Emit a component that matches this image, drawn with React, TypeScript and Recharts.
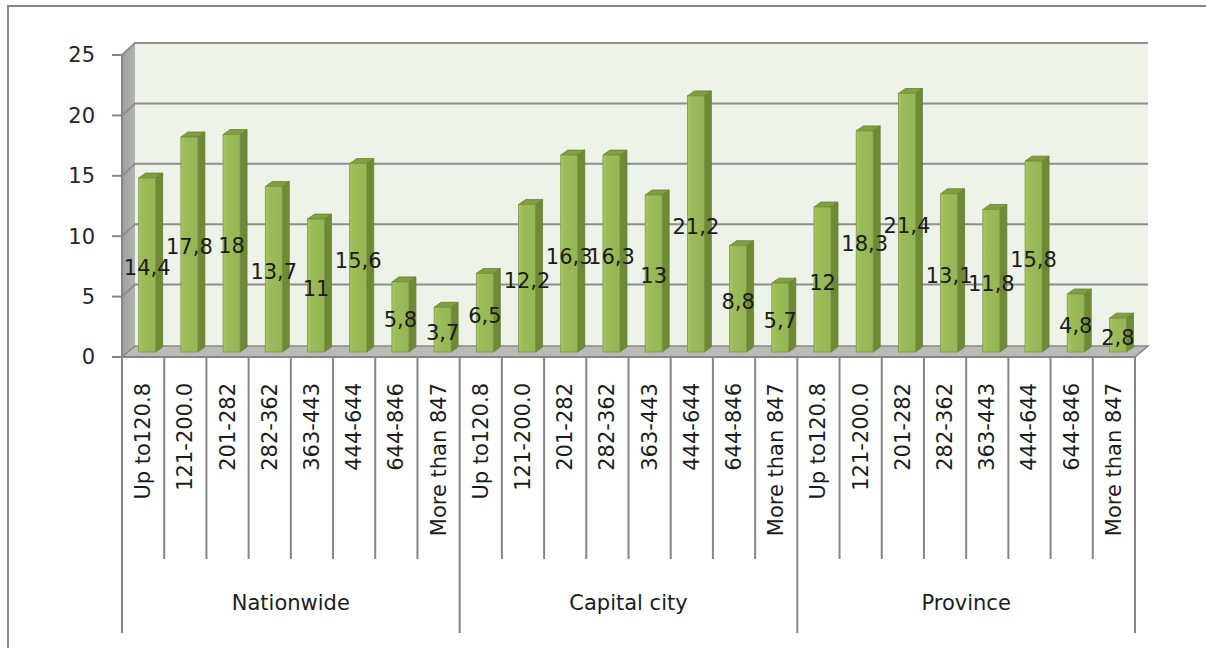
import { BarChart, Bar, XAxis, YAxis, ReferenceArea, LabelList } from 'recharts';

const groups = ['Nationwide', 'Capital city', 'Province'];
const incomeBands = ['Up to120.8', '121-200.0', '201-282', '282-362', '363-443', '444-644', '644-846', 'More than 847'];
const nationwide = [14.4, 17.8, 18, 13.7, 11, 15.6, 5.8, 3.7];
const capitalCity = [6.5, 12.2, 16.3, 16.3, 13, 21.2, 8.8, 5.7];
const province = [12, 18.3, 21.4, 13.1, 11.8, 15.8, 4.8, 2.8];
const yTicks = [0, 5, 10, 15, 20, 25];

const series = [nationwide, capitalCity, province];
const data = groups.flatMap((g, gi) =>
  incomeBands.map((b, i) => ({ key: `${gi}-${i}`, band: b, group: g, value: series[gi][i] }))
);

const FONT = '"DejaVu Sans", sans-serif';
const AXIS = '#868686';
// 3d depth of the walls and of the columns
const WALL_DX = 13;
const WALL_DY = 12;
const BAR_SHIFT_X = 4;
const BAR_SHIFT_Y = 5;
const BAR_DX = 7;
const BAR_DY = 5;

function Walls(props: any) {
  const { x, y, width, height } = props;
  const bottom = y + height;
  const right = x + width;
  return (
    <g>
      <defs>
        <linearGradient id="sideWall" x1="0" y1="0" x2="1" y2="0">
          <stop offset="0%" stopColor="#9c9e99" />
          <stop offset="100%" stopColor="#b4b6b1" />
        </linearGradient>
        <linearGradient id="barFront" x1="0" y1="0" x2="1" y2="0">
          <stop offset="0%" stopColor="#aac96b" />
          <stop offset="20%" stopColor="#9cbc5a" />
          <stop offset="100%" stopColor="#96b554" />
        </linearGradient>
      </defs>
      <rect x={x + WALL_DX} y={y - WALL_DY} width={width} height={height} fill="#eef3ea" />
      <polygon
        points={`${x},${y} ${x + WALL_DX},${y - WALL_DY} ${x + WALL_DX},${bottom - WALL_DY + 1} ${x},${bottom}`}
        fill="url(#sideWall)"
      />
      <polygon
        points={`${x},${bottom} ${x + WALL_DX},${bottom - WALL_DY + 1} ${right + WALL_DX},${bottom - WALL_DY + 1} ${right},${bottom}`}
        fill="#b9bbb6"
        stroke={AXIS}
        strokeWidth={1.5}
      />
      {yTicks
        .filter((t) => t > 0)
        .map((t) => {
          const ty = bottom - (t / 25) * height;
          return (
            <polyline
              key={t}
              points={`${x},${ty} ${x + WALL_DX},${ty - WALL_DY} ${right + WALL_DX},${ty - WALL_DY}`}
              fill="none"
              stroke="#8e8e8e"
              strokeWidth={2}
            />
          );
        })}
    </g>
  );
}

function Column3D(props: any) {
  const { x, y, width, height } = props;
  if (!height || height <= 0) return null;
  const fx = x + BAR_SHIFT_X;
  const fy = y - BAR_SHIFT_Y;
  const edge = '#66802f';
  return (
    <g>
      <polygon
        points={`${fx + width},${fy} ${fx + width + BAR_DX},${fy - BAR_DY} ${fx + width + BAR_DX},${fy + height - BAR_DY} ${fx + width},${fy + height}`}
        fill="#6e8a36"
        stroke={edge}
        strokeWidth={0.8}
      />
      <polygon
        points={`${fx},${fy} ${fx + BAR_DX},${fy - BAR_DY} ${fx + width + BAR_DX},${fy - BAR_DY} ${fx + width},${fy}`}
        fill="#809e43"
        stroke={edge}
        strokeWidth={0.8}
      />
      <rect x={fx} y={fy} width={width} height={height} fill="url(#barFront)" stroke="#78963d" strokeWidth={0.8} />
    </g>
  );
}

function ValueLabel(props: any) {
  const { x, y, width, height, value } = props;
  return (
    <text
      x={x + width / 2 + BAR_SHIFT_X}
      y={y + height / 2 - 2}
      textAnchor="middle"
      dominantBaseline="central"
      fontSize={21}
      fontFamily={FONT}
      fill="#1c1c1c"
    >
      {String(value).replace('.', ',')}
    </text>
  );
}

function CategoryTick(props: any) {
  const { x, y, payload } = props;
  const row = data.find((d) => d.key === payload.value);
  if (!row) return null;
  const idx = data.indexOf(row);
  const half = payload.offset || 21.1;
  const pos = idx % incomeBands.length;
  const left = x - half;
  const groupStart = pos === 0;
  return (
    <g>
      <line x1={left} y1={y} x2={left} y2={y + (groupStart ? 276 : 202)} stroke={AXIS} strokeWidth={2} />
      {idx === data.length - 1 && (
        <line x1={x + half} y1={y} x2={x + half} y2={y + 276} stroke={AXIS} strokeWidth={2} />
      )}
      <text
        transform={`rotate(-90 ${x} ${y + 26})`}
        x={x}
        y={y + 26}
        textAnchor="end"
        dominantBaseline="central"
        fontSize={21}
        fontFamily={FONT}
        fill="#1c1c1c"
      >
        {row.band}
      </text>
      {groupStart && (
        <text
          x={left + half * incomeBands.length}
          y={y + 246}
          textAnchor="middle"
          dominantBaseline="central"
          fontSize={21}
          fontFamily={FONT}
          fill="#1c1c1c"
        >
          {row.group}
        </text>
      )}
    </g>
  );
}

export default function App() {
  return (
    <div style={{ position: 'absolute', left: 0, top: 0, width: 1206, height: 648, overflow: 'hidden', background: '#fff' }}>
      <div
        style={{
          position: 'absolute',
          left: 7,
          top: 5,
          width: 1300,
          height: 700,
          borderLeft: `2px solid ${AXIS}`,
          borderTop: `2px solid ${AXIS}`,
        }}
      />
      <div style={{ position: 'absolute', left: 0, top: 0 }}>
        <BarChart width={1206} height={648} data={data} margin={{ top: 55, right: 71, left: 40, bottom: 0 }} barCategoryGap="30%">
          <ReferenceArea y1={0} y2={25} shape={<Walls />} />
          <XAxis
            dataKey="key"
            height={291}
            interval={0}
            tickSize={0}
            tickMargin={0}
            axisLine={{ stroke: AXIS, strokeWidth: 2 }}
            tickLine={false}
            tick={<CategoryTick />}
          />
          <YAxis
            domain={[0, 25]}
            ticks={yTicks}
            interval={0}
            width={82}
            tickSize={10}
            tickMargin={17}
            axisLine={{ stroke: AXIS, strokeWidth: 2 }}
            tickLine={{ stroke: AXIS, strokeWidth: 2 }}
            tick={{ fontSize: 21, fill: '#262626', fontFamily: FONT }}
          />
          <Bar dataKey="value" shape={<Column3D />} isAnimationActive={false}>
            <LabelList dataKey="value" content={<ValueLabel />} />
          </Bar>
        </BarChart>
      </div>
    </div>
  );
}
